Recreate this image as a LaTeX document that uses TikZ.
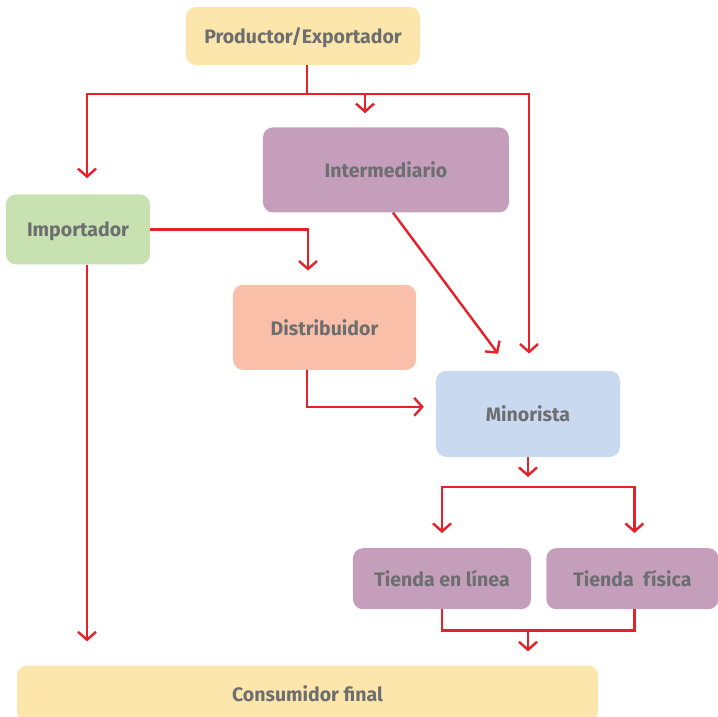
\documentclass[tikz,border=0pt]{standalone}
\usepackage{fontspec}
\setmainfont{Fira Sans}
\usepackage{xcolor}
\usepackage{tikz}
\usetikzlibrary{positioning, arrows.meta, calc}
\definecolor{cream}{HTML}{FDE6AC}
\definecolor{mauve}{HTML}{C49EBA}
\definecolor{sage}{HTML}{C7E1B0}
\definecolor{salmon}{HTML}{F9BFA8}
\definecolor{sky}{HTML}{C9DAF0}
\definecolor{flowred}{HTML}{E8202A}
\definecolor{txtgray}{HTML}{6D6E70}
\tikzset{
  box/.style      = {rectangle, rounded corners=10pt, draw=none, inner sep=0pt,
                     align=center, text=txtgray, text depth=0pt,
                     font=\fontsize{19.5}{21}\selectfont\bfseries},
  endbox/.style   = {box, fill=cream},
  agentbox/.style = {box, fill=mauve},
  impbox/.style   = {box, fill=sage},
  distbox/.style  = {box, fill=salmon},
  retbox/.style   = {box, fill=sky},
  link/.style     = {line width=2.4pt, draw=flowred},
  arr/.style      = {-{Straight Barb[length=8pt,width=18pt]}, line width=2.4pt, draw=flowred},
}
\begin{document}
\begin{tikzpicture}[node distance=15pt]

  \useasboundingbox (-303pt,36pt) rectangle (415pt,-681pt);

  % NODES
  \node[endbox, minimum width=234pt, minimum height=58pt] (prod) {Productor/Exportador};
  \node[agentbox, minimum width=246pt, minimum height=85pt, below=62pt of prod, xshift=83pt] (inter) {Intermediario};
  \node[impbox, minimum width=144pt, minimum height=70pt, below=129pt of prod, xshift=-225pt] (imp) {Importador};
  \node[distbox, minimum width=183pt, minimum height=85pt, below=72pt of inter, xshift=-61.5pt] (dist) {Distribuidor};
  \node[retbox, minimum width=184pt, minimum height=86pt, below=158pt of inter, xshift=142pt] (mino) {Minorista};
  \node[agentbox, minimum width=178pt, minimum height=61pt, below=91pt of mino, xshift=-86pt] (tlin) {Tienda en línea};
  \node[agentbox, minimum width=172pt, minimum height=61pt, right=15pt of tlin] (tfis) {Tienda\ \ física};
  \node[endbox, minimum width=581pt, minimum height=56pt, below=56pt of tlin, xshift=-134.5pt] (cons) {Consumidor final};

  % FROM PRODUCER
  \coordinate (bus) at ([xshift=4pt,yshift=-29pt]prod.south);
  \coordinate (midtop) at ([xshift=-21pt]inter.north);
  \draw[arr, shorten >=16pt] ([xshift=4pt]prod.south) -- (bus) -| ([xshift=9pt]imp.north);
  \draw[arr, shorten >=17pt] ([xshift=4pt]prod.south) -- (bus) -| ([xshift=1pt]mino.north);
  \draw[arr, shorten >=14pt] (midtop |- bus) -- (midtop);

  % IMPORTER
  \coordinate (impdown) at ([xshift=9pt]imp.south);
  \draw[arr, shorten >=14pt] (imp.east) -| ([xshift=-16.5pt]dist.north);
  \draw[arr, shorten >=24pt] (impdown) -- (impdown |- cons.north);

  % TO RETAILER
  \draw[arr, shorten >=21pt] ([xshift=7pt]inter.south) -- ([xshift=-17.4pt]mino.north);
  \draw[arr, shorten >=12pt] ([xshift=-17.5pt]dist.south) |- ([yshift=7pt]mino.west);

  % SHOPS
  \coordinate[below=30pt of mino] (fork);
  \draw[arr, shorten >=10pt] (mino.south) -- (fork);
  \draw[arr, shorten >=15pt] (fork) -| (tlin.north);
  \draw[arr, shorten >=15pt] (fork) -| ([xshift=2pt]tfis.north);

  \coordinate[below=21pt of tlin] (tdown);
  \coordinate (join) at (mino.south |- tdown);
  \draw[link] (tlin.south) -- (tdown) -| ([xshift=2pt]tfis.south);
  \draw[arr, shorten >=14pt] (join) -- (join |- cons.north);

\end{tikzpicture}
\end{document}
